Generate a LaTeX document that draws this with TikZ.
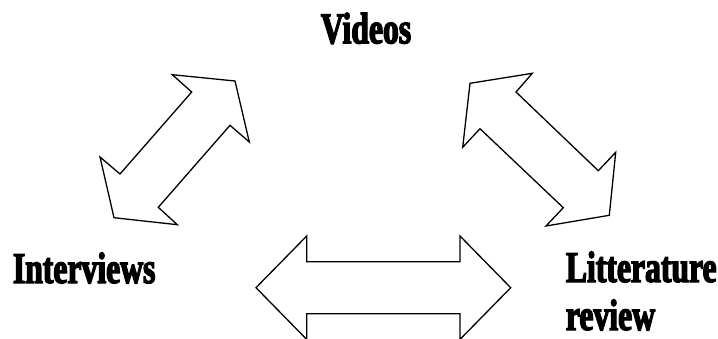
\documentclass[tikz,border=0pt]{standalone}
\usepackage{fontspec}
\usetikzlibrary{positioning}
\newfontfamily\triFont{Liberation Serif}[FakeStretch=0.72,
  BoldFeatures={FakeStretch=0.72,FakeBold=3}]
\definecolor{triInk}{HTML}{000000}
\tikzset{
  tri/label/.style={font=\triFont\bfseries\fontsize{44}{48}\selectfont,
    text=triInk, inner sep=0pt, align=left},
  tri/block/.style={draw=triInk, fill=white, line width=1.3pt,
    line join=miter},
}

\begin{document}
\begin{tikzpicture}[x=1pt, y=-1pt,
    label/.style={tri/label},
    block/.style={tri/block},
]
\useasboundingbox (0,0) rectangle (718,338);

% the three sources
\node[label, anchor=base] (videos) at (366,43.3) {Videos};
\node[label, anchor=base west] (interviews) at (12.7,283) {Interviews};
\node[label, anchor=base west] (litt) at (565.7,282) {Litterature};
\node[label, anchor=base west] (review) at (565.7,330) {review};

% interviews <-> videos
\draw[block] (172.3,74.7) -- (235,81) -- (249.3,142) -- (230,125.3)
  -- (158.3,207.3) -- (177.3,224.7) -- (114,217.7) -- (100,157)
  -- (120,174) -- (191.7,92) -- cycle;

% videos <-> literature review
\draw[block] (470,83.3) -- (532.3,73.3) -- (516,92) -- (598.3,170.7)
  -- (615.7,152.3) -- (609.3,215.3) -- (546,226) -- (563.3,207.7)
  -- (480,128.7) -- (462.7,147.3) -- cycle;

% interviews <-> literature review
\draw[block] (256,287.7) -- (306.7,236) -- (306.7,261.7) -- (460,261.7)
  -- (460,236) -- (510.7,287.7) -- (460,339.4) -- (460,313.7)
  -- (306.7,313.7) -- (306.7,339.4) -- cycle;
\end{tikzpicture}
\end{document}
